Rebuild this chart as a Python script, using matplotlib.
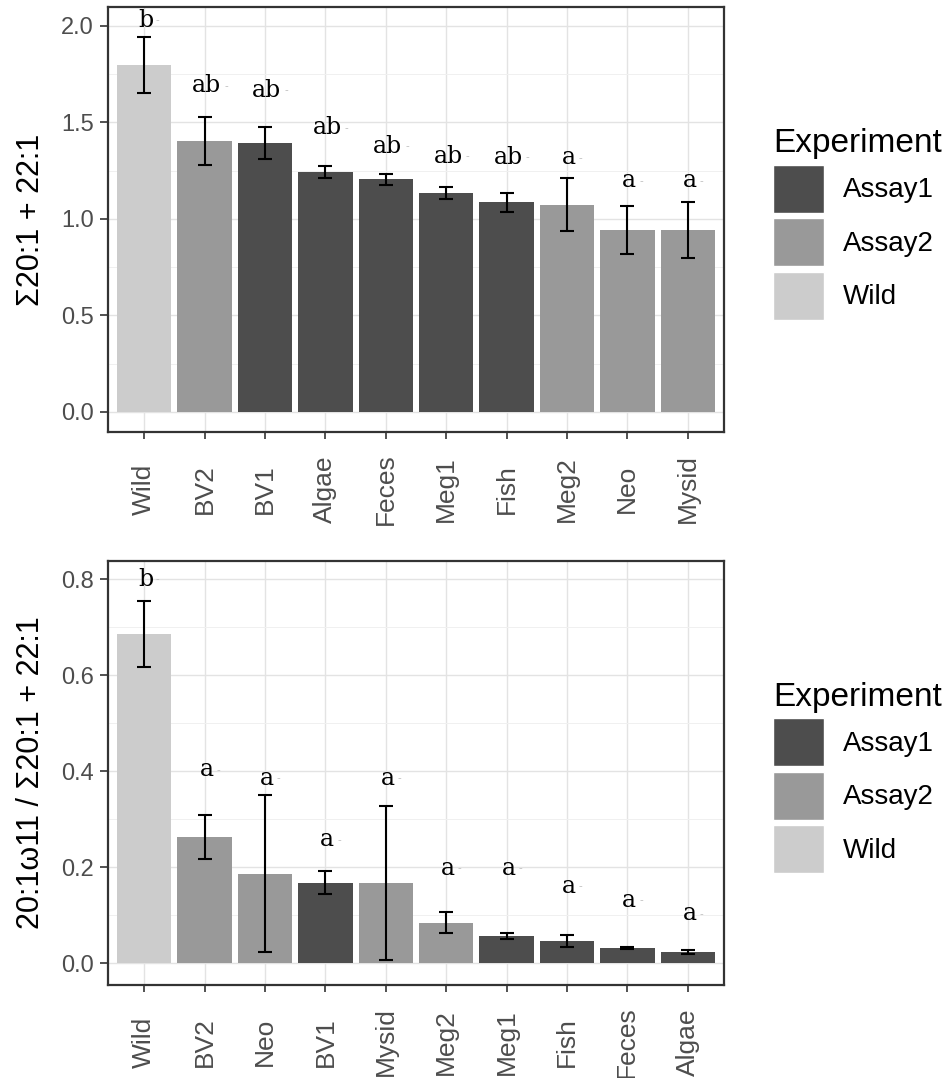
import numpy as np
import matplotlib
matplotlib.use('Agg')
import matplotlib.pyplot as plt
from matplotlib.patches import Patch
from matplotlib.ticker import MultipleLocator

plt.rcParams['font.family'] = ['Liberation Sans', 'DejaVu Sans']

# top panel: sum 20:1 + 22:1
top_cats = ['Wild', 'BV2', 'BV1', 'Algae', 'Feces', 'Meg1', 'Fish', 'Meg2', 'Neo', 'Mysid']
top_group = ['Wild', 'Assay2', 'Assay1', 'Assay1', 'Assay1', 'Assay1', 'Assay1', 'Assay2', 'Assay2', 'Assay2']
top_mean = [1.80, 1.405, 1.395, 1.242, 1.205, 1.133, 1.087, 1.073, 0.943, 0.943]
top_err = [0.145, 0.125, 0.083, 0.031, 0.030, 0.031, 0.049, 0.138, 0.126, 0.145]
top_letters = ['b', 'ab', 'ab', 'ab', 'ab', 'ab', 'ab', 'a', 'a', 'a']
top_label_y = [2.03, 1.69, 1.665, 1.473, 1.375, 1.323, 1.32, 1.316, 1.197, 1.197]

# bottom panel: 20:1w11 / sum 20:1 + 22:1
bot_cats = ['Wild', 'BV2', 'Neo', 'BV1', 'Mysid', 'Meg2', 'Meg1', 'Fish', 'Feces', 'Algae']
bot_group = ['Wild', 'Assay2', 'Assay2', 'Assay1', 'Assay2', 'Assay2', 'Assay1', 'Assay1', 'Assay1', 'Assay1']
bot_mean = [0.686, 0.264, 0.187, 0.168, 0.168, 0.085, 0.057, 0.047, 0.033, 0.024]
bot_err = [0.068, 0.046, 0.163, 0.024, 0.160, 0.022, 0.006, 0.012, 0.002, 0.004]
bot_letters = ['b', 'a', 'a', 'a', 'a', 'a', 'a', 'a', 'a', 'a']
bot_label_y = [0.80, 0.403, 0.385, 0.257, 0.385, 0.198, 0.198, 0.161, 0.132, 0.103]

groups = ['Assay1', 'Assay2', 'Wild']
colors = {'Assay1': '#4D4D4D', 'Assay2': '#999999', 'Wild': '#CCCCCC'}

fig = plt.figure(figsize=(9.47, 10.78), dpi=100)


def panel(rect, cats, grp, mean, err, letters, label_y, ylim, major, minor, ylabel):
    ax = fig.add_axes(rect)
    x = np.arange(len(cats))
    ax.bar(x, mean, width=0.9, color=[colors[g] for g in grp], zorder=2)
    ax.errorbar(x, mean, yerr=err, fmt='none', ecolor='black', elinewidth=1.5,
                capsize=4.7, capthick=1.5, zorder=3)
    for xi, lab, ly in zip(x, letters, label_y):
        ax.text(xi + 0.03, ly, lab, ha='center', va='center', fontsize=17,
                family='DejaVu Serif', color='black', zorder=4)
        ax.annotate('-', (xi + 0.03, ly), xytext=(len(lab) * 5.5 + 3, 0),
                    textcoords='offset points', ha='center', va='center',
                    fontsize=8, color='#BBBBBB', zorder=4)
    ax.set_xlim(-0.6, len(cats) - 0.4)
    ax.set_ylim(*ylim)
    ax.set_xticks(x)
    ax.set_xticklabels(cats, rotation=90, va='center', ha='center')
    ax.yaxis.set_major_locator(MultipleLocator(major))
    ax.yaxis.set_minor_locator(MultipleLocator(minor))
    ax.grid(which='major', color='#E3E3E3', linewidth=1.0, zorder=0)
    ax.grid(which='minor', axis='y', color='#F0F0F0', linewidth=0.7, zorder=0)
    ax.set_axisbelow(True)
    ax.tick_params(axis='x', which='major', length=5, width=1.2, color='#333333',
                   labelsize=19, labelcolor='#4D4D4D', pad=36)
    ax.tick_params(axis='y', which='major', length=6, width=1.2, color='#333333',
                   labelsize=17, labelcolor='#4D4D4D', pad=4)
    ax.tick_params(axis='y', which='minor', length=0)
    ax.yaxis.set_major_formatter(matplotlib.ticker.FormatStrFormatter('%.1f'))
    for s in ax.spines.values():
        s.set_color('#333333')
        s.set_linewidth(1.6)
    ax.set_ylabel(ylabel, fontsize=22)
    ax.yaxis.set_label_coords(-0.101, 0.5)
    handles = [Patch(facecolor=colors[g], edgecolor='white', label=g) for g in groups]
    cy = rect[1] + rect[3] / 2
    fig.legend(handles=handles, title='Experiment', loc='center left',
               bbox_to_anchor=(773 / 947, cy - 0.004), frameon=False, fontsize=20,
               title_fontsize=24, handlelength=1.83, handleheight=2.28,
               handletextpad=0.68, labelspacing=0.2, borderpad=0,
               borderaxespad=0, alignment='left')
    return ax


panel([108 / 947, 1 - 432 / 1078, 616 / 947, 425 / 1078],
      top_cats, top_group, top_mean, top_err, top_letters, top_label_y,
      (-0.104, 2.098), 0.5, 0.25, 'Σ20:1 + 22:1')
panel([108 / 947, 1 - 985 / 1078, 616 / 947, 424 / 1078],
      bot_cats, bot_group, bot_mean, bot_err, bot_letters, bot_label_y,
      (-0.045, 0.838), 0.2, 0.1, '20:1ω11 / Σ20:1 + 22:1')

fig.savefig('out.png', dpi=100)
